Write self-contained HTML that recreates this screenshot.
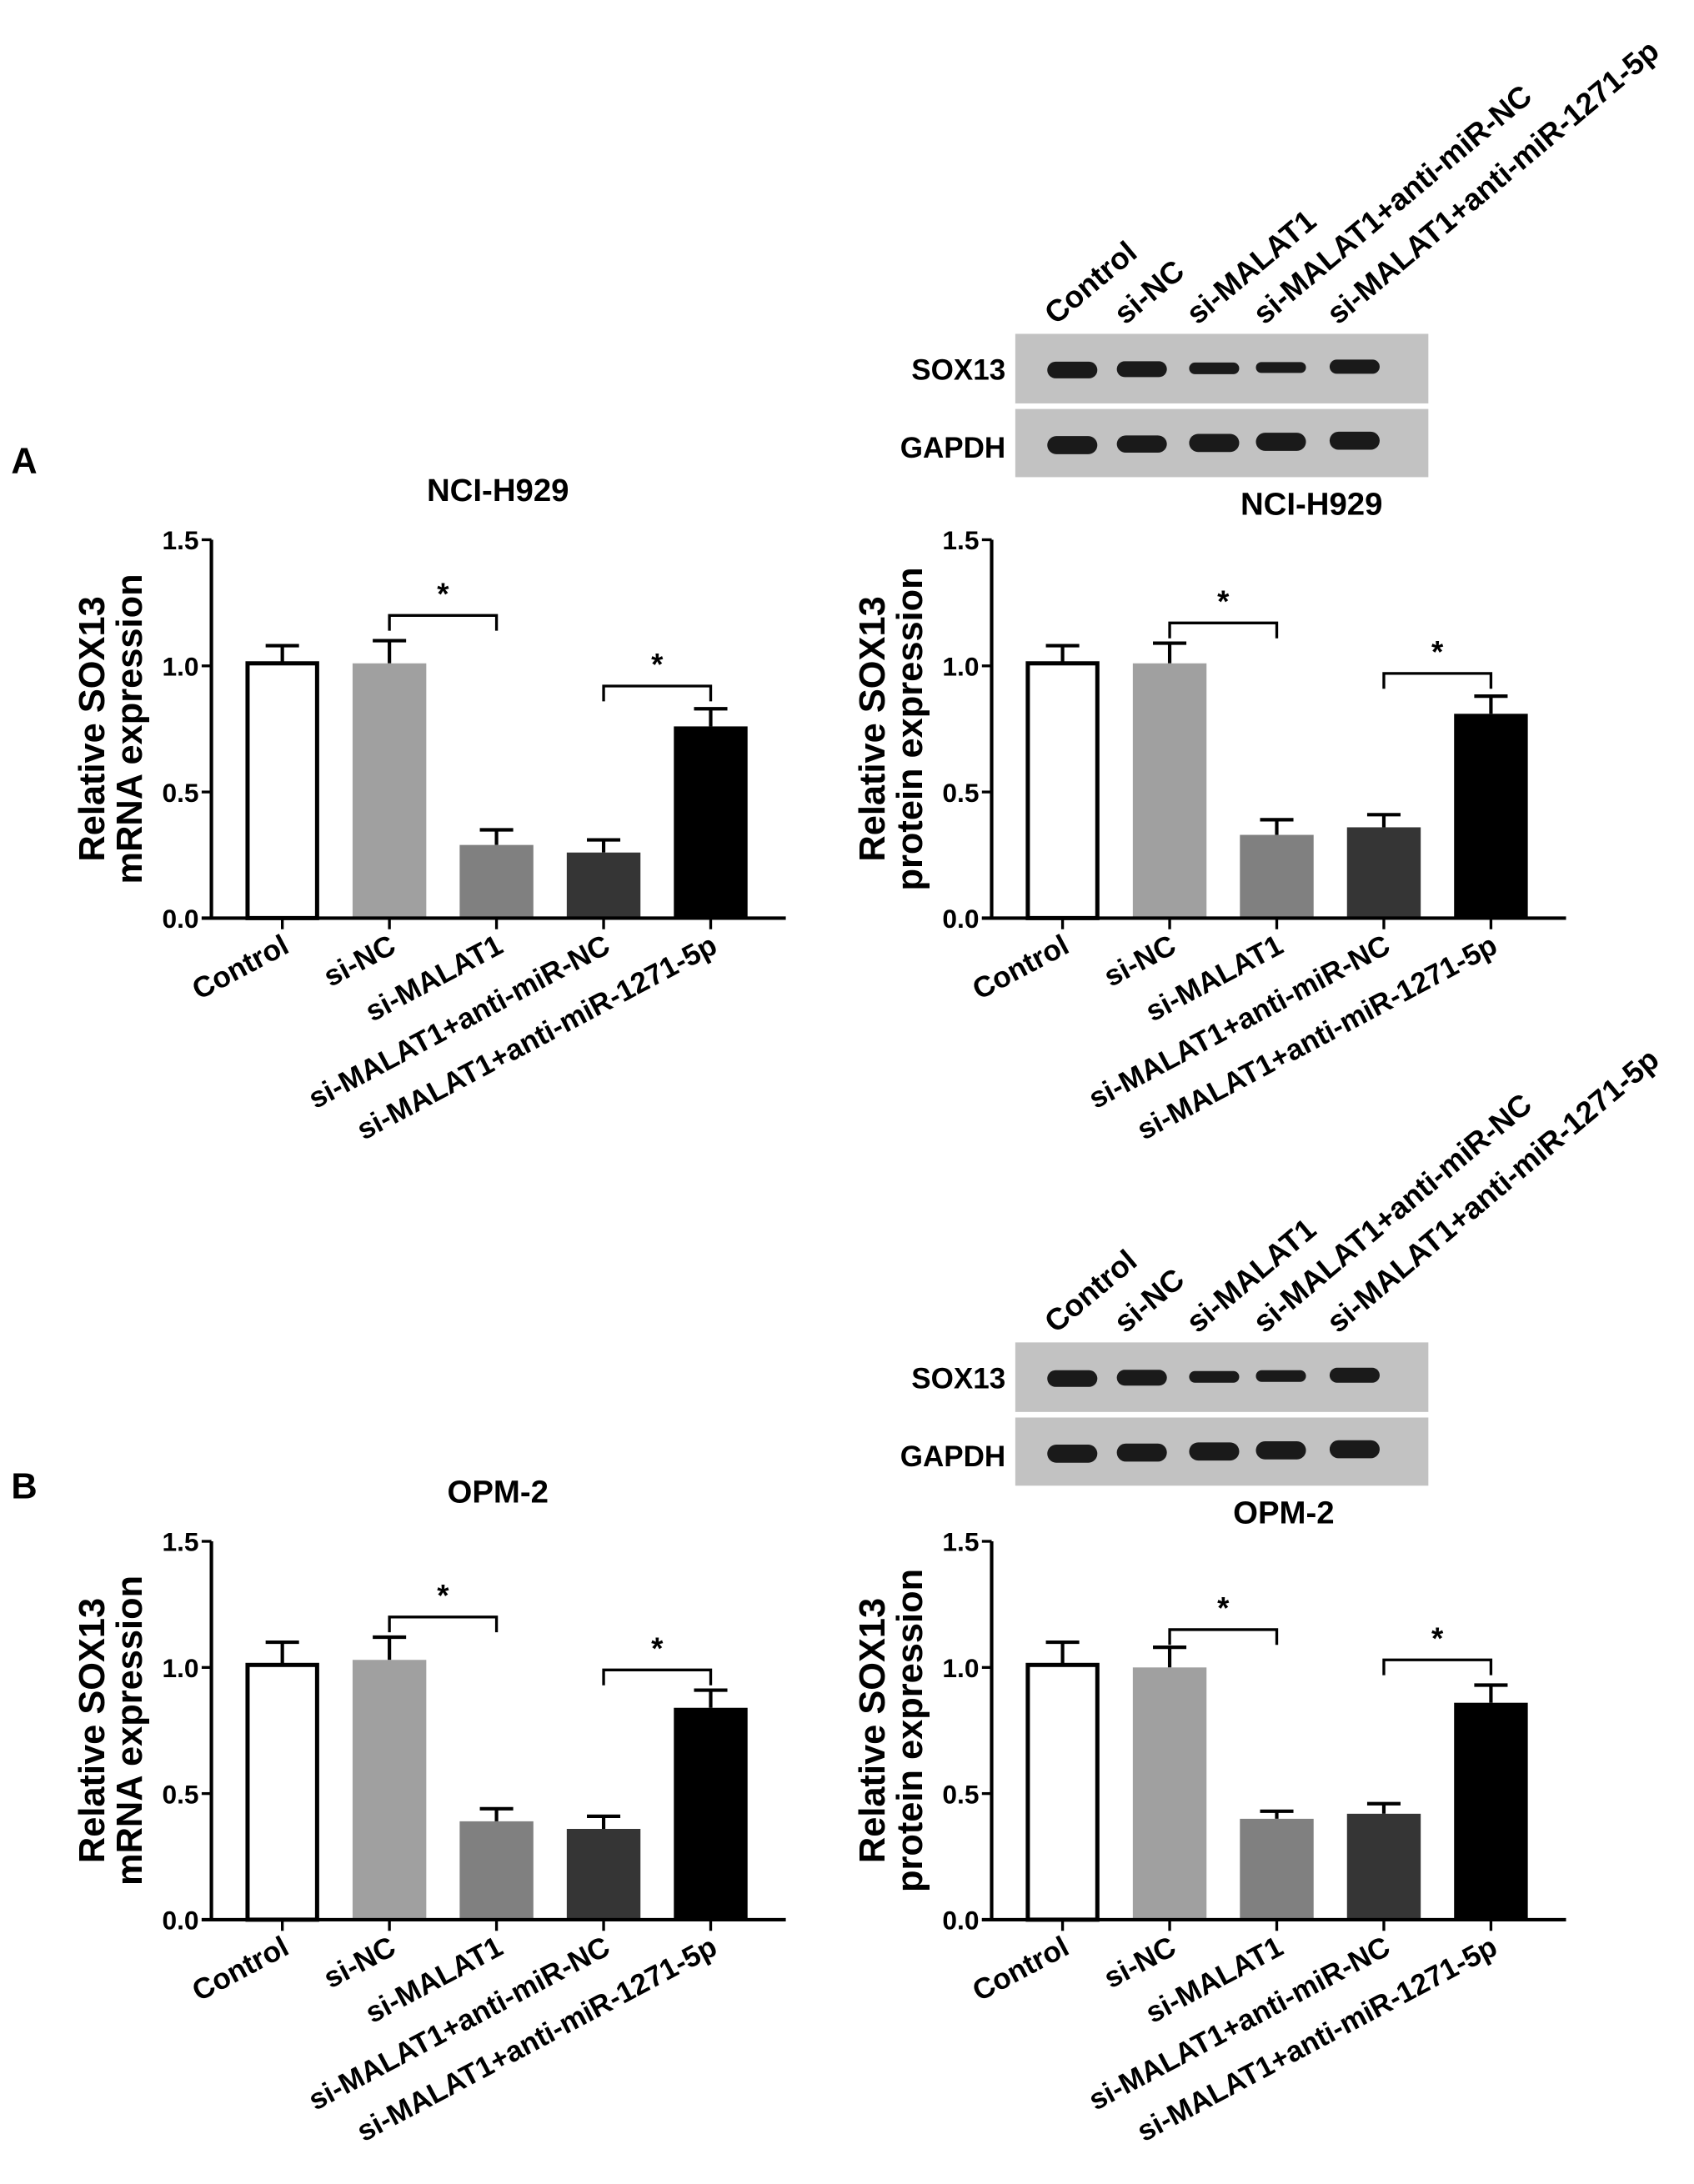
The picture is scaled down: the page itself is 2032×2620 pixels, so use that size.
<!DOCTYPE html>
<html><head><meta charset="utf-8"><style>
html,body{margin:0;padding:0;background:#fff;}
svg{display:block;}
text{font-family:"Liberation Sans",Arial,sans-serif;font-weight:bold;fill:#000;}
</style></head>
<body>
<svg id="fig" width="2032" height="2620" viewBox="0 0 1218 1570" preserveAspectRatio="none" xmlns="http://www.w3.org/2000/svg">
<rect width="1218" height="1570" fill="#fff"/>
<text x="8" y="340" font-size="26">A</text>
<text x="8" y="1077" font-size="26">B</text>
</svg>
<script>
const categories = ["Control","si-NC","si-MALAT1","si-MALAT1+anti-miR-NC","si-MALAT1+anti-miR-1271-5p"];
const yTicks = [0.0, 0.5, 1.0, 1.5];
const yTickLabels = ["0.0","0.5","1.0","1.5"];
const aMrnaValues = [1.01, 1.01, 0.29, 0.26, 0.76];
const aMrnaErrors = [0.07, 0.09, 0.06, 0.05, 0.07];
const aProteinValues = [1.01, 1.01, 0.33, 0.36, 0.81];
const aProteinErrors = [0.07, 0.08, 0.06, 0.05, 0.07];
const bMrnaValues = [1.01, 1.03, 0.39, 0.36, 0.84];
const bMrnaErrors = [0.09, 0.09, 0.05, 0.05, 0.07];
const bProteinValues = [1.01, 1.00, 0.40, 0.42, 0.86];
const bProteinErrors = [0.09, 0.08, 0.03, 0.04, 0.07];
const aMrnaBrackets = [1.20, 0.92];
const aProteinBrackets = [1.17, 0.97];
const bMrnaBrackets = [1.20, 0.99];
const bProteinBrackets = [1.15, 1.03];
const sox13BandA = [1.0, 0.95, 0.7, 0.65, 0.85];
const gapdhBandA = [1.0, 0.95, 1.0, 1.0, 1.0];
const sox13BandB = [1.0, 0.95, 0.7, 0.7, 0.9];
const gapdhBandB = [1.0, 1.0, 1.0, 1.0, 1.0];

const NS = "http://www.w3.org/2000/svg";
const svg = document.getElementById("fig");
const fills = ["#ffffff","#a0a0a0","#808080","#353535","#000000"];
function mk(tag, attrs, parent) {
  const e = document.createElementNS(NS, tag);
  for (const k in attrs) e.setAttribute(k, attrs[k]);
  (parent || svg).appendChild(e);
  return e;
}

function drawChart(name, ax, y0, title, tx, ty, ytitle2, vals, errs, brs) {
  const g = mk("g", {});
  
  
  const H = 272;
  const yS = v => y0 - v / 1.5 * H;
  const xC = i => ax + 51 + i * 77;
  const bw = 53;
  const t = mk("text", {x: tx, y: ty, "font-size": 23, "text-anchor": "middle"}, g);
  t.textContent = title;
  
  
  const yt = mk("text", {transform: `translate(${ax-77},${y0-136}) rotate(-90)`, "font-size": 26, "text-anchor": "middle"}, g);
  yt.textContent = "Relative SOX13";
  
  
  const yt2 = mk("text", {transform: `translate(${ax-50},${y0-136}) rotate(-90)`, "font-size": 26, "text-anchor": "middle"}, g);
  yt2.textContent = ytitle2;
  
  
  vals.forEach((v, i) => {
    const x = xC(i);
    const top = yS(v);
    const e = yS(v + errs[i]);
    const ew = mk("line", {x1: x, x2: x, y1: top, y2: e, stroke: "#000", "stroke-width": 2.5}, g);
    
    
    const cap = mk("line", {x1: x - 12, x2: x + 12, y1: e, y2: e, stroke: "#000", "stroke-width": 2.5}, g);
    
    
    let r;
    if (i === 0) {
      r = mk("rect", {x: x - bw/2 + 1.5, y: top, width: bw - 3, height: y0 - top, fill: "#fff", stroke: "#000", "stroke-width": 3}, g);
    } else {
      r = mk("rect", {x: x - bw/2, y: top, width: bw, height: y0 - top, fill: fills[i]}, g);
    }
    
    
    const tk = mk("line", {x1: x, x2: x, y1: y0, y2: y0 + 8, stroke: "#000", "stroke-width": 2}, g);
    
    
    const lb = mk("text", {transform: `translate(${x + 6},${y0 + 24}) rotate(-28)`, "font-size": 21, "text-anchor": "end"}, g);
    lb.textContent = categories[i];
    
    
  });
  const yax = mk("line", {x1: ax, x2: ax, y1: yS(1.5), y2: y0 + 1, stroke: "#000", "stroke-width": 2.5}, g);
  
  
  const xax = mk("line", {x1: ax - 7, x2: ax + 413, y1: y0, y2: y0, stroke: "#000", "stroke-width": 2.5}, g);
  
  
  yTicks.forEach((v, i) => {
    const y = yS(v);
    const tk = mk("line", {x1: ax - 7, x2: ax, y1: y, y2: y, stroke: "#000", "stroke-width": 2}, g);
    
    
    const tl = mk("text", {x: ax - 9, y: y + 7, "font-size": 19, "text-anchor": "end"}, g);
    tl.textContent = yTickLabels[i];
    
    
  });
  const pairs = [[1,2],[3,4]];
  brs.forEach((bv, k) => {
    const x1 = xC(pairs[k][0]), x2 = xC(pairs[k][1]);
    const y = yS(bv);
    const p = mk("path", {d: `M${x1},${y+11} V${y} H${x2} V${y+11}`, fill: "none", stroke: "#000", "stroke-width": 2}, g);
    
    
    const s = mk("text", {x: (x1 + x2) / 2, y: y - 8, "font-size": 22, "text-anchor": "middle"}, g);
    s.textContent = "*";
    
    
  });
}

function drawBlot(name, top, soxB, gapB) {
  const g = mk("g", {});
  
  
  const lanes = [771, 821, 873, 921, 974];
  const p1 = mk("rect", {x: 730, y: top, width: 297, height: 50, fill: "#c2c2c2"}, g);
  
  
  const p2 = mk("rect", {x: 730, y: top + 54, width: 297, height: 49, fill: "#c2c2c2"}, g);
  
  
  const l1 = mk("text", {x: 723, y: top + 33, "font-size": 21, "text-anchor": "end"}, g);
  l1.textContent = "SOX13";
  
  
  const l2 = mk("text", {x: 723, y: top + 89, "font-size": 21, "text-anchor": "end"}, g);
  l2.textContent = "GAPDH";
  
  
  lanes.forEach((x, i) => {
    const b1 = mk("rect", {x: x - 18, y: top + 26 - i * 0.6 - 6 * soxB[i], width: 36, height: 12 * soxB[i], rx: 6 * soxB[i], fill: "#1a1a1a"}, g);
    
    
    const b2 = mk("rect", {x: x - 18, y: top + 80 - i * 0.8 - 6.5 * gapB[i], width: 36, height: 13 * gapB[i], rx: 6.5, fill: "#1a1a1a"}, g);
    
    
    const t = mk("text", {transform: `translate(${x - 12},${top - 6}) rotate(-40)`, "font-size": 22}, g);
    t.textContent = categories[i];
    
    
  });
}

drawBlot("blot-a", 240, sox13BandA, gapdhBandA);
drawBlot("blot-b", 965, sox13BandB, gapdhBandB);
drawChart("chart-a-mrna", 152, 660, "NCI-H929", 358, 360, "mRNA expression", aMrnaValues, aMrnaErrors, aMrnaBrackets);
drawChart("chart-a-protein", 713, 660, "NCI-H929", 943, 370, "protein expression", aProteinValues, aProteinErrors, aProteinBrackets);
drawChart("chart-b-mrna", 152, 1380, "OPM-2", 358, 1080, "mRNA expression", bMrnaValues, bMrnaErrors, bMrnaBrackets);
drawChart("chart-b-protein", 713, 1380, "OPM-2", 923, 1095, "protein expression", bProteinValues, bProteinErrors, bProteinBrackets);
</script>
</body></html>
